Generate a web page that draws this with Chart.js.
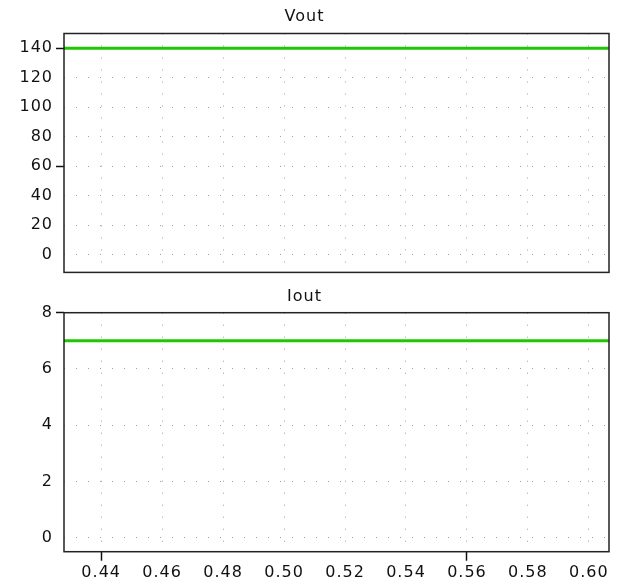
<!DOCTYPE html>
<html>
<head>
<meta charset="utf-8">
<script src="https://cdn.jsdelivr.net/npm/chart.js@4"></script>
<style>
  html, body { margin: 0; padding: 0; background: #fff; }
  #wrap1 { position: absolute; left: 0; top: 0; width: 618px; height: 285px; }
  #wrap2 { position: absolute; left: 0; top: 285px; width: 618px; height: 301px; }
</style>
</head>
<body>
<div id="wrap1"><canvas id="voutChart"></canvas></div>
<div id="wrap2"><canvas id="ioutChart"></canvas></div>
<script>
// time axis (s)
const timeStart = 0.4278;
const timeEnd = 0.6066;
const times = [0.4278, 0.6066];
const xTicks = [0.44, 0.46, 0.48, 0.50, 0.52, 0.54, 0.56, 0.58, 0.60];
const xMarked = [0.44, 0.56];

// Vout
const voutValues = [140, 140];
const voutTicks = [0, 20, 40, 60, 80, 100, 120, 140];
const voutMarked = [140, 60];

// Iout
const ioutValues = [7, 7];
const ioutTicks = [0, 2, 4, 6, 8];
const ioutMarked = [8];

const lineGreen = "#1ec800";
const gridGray = "#a0a0a0";
const fontFamily = "'DejaVu Sans', Verdana, sans-serif";

// draws the black frame round the plot area, widens the text a little
const frame = {
  id: "frame",
  beforeDraw(chart) {
    chart.ctx.letterSpacing = "1px";
  },
  afterDraw(chart) {
    const a = chart.chartArea;
    const c = chart.ctx;
    c.save();
    c.strokeStyle = "#222";
    c.lineWidth = 1.5;
    c.strokeRect(a.left, a.top, a.right - a.left, a.bottom - a.top);
    c.restore();
  },
};

function isMarked(list, v) {
  return list.some((m) => Math.abs(m - v) < 1e-6);
}

function makeChart(id, title, values, yTicks, yMarked, yMin, yMax, opts) {
  let points = times.map((t, i) => ({ x: t, y: values[i] }));
  return new Chart(document.getElementById(id), {
    type: "line",
    data: {
      datasets: [
        {
          label: title,
          data: points,
          borderColor: lineGreen,
          borderWidth: 3,
          pointRadius: 0,
          tension: 0,
        },
      ],
    },
    options: {
      responsive: true,
      maintainAspectRatio: false,
      animation: false,
      layout: { padding: { left: 0, right: 9, top: 0, bottom: 0 } },
      plugins: {
        legend: { display: false },
        tooltip: { enabled: false },
        title: {
          display: true,
          text: title,
          color: "#111",
          font: { family: fontFamily, size: 16, weight: "normal", lineHeight: 1.2 },
          padding: { top: opts.titleTop, bottom: opts.titleGap },
        },
      },
      scales: {
        x: {
          type: "linear",
          min: timeStart,
          max: timeEnd,
          afterBuildTicks: (scale) => {
            scale.ticks = xTicks.map((v) => ({ value: v }));
          },
          afterFit: (scale) => {
            scale.height = opts.xHeight;
          },
          border: { display: false, dash: [1, 11] },
          grid: {
            color: gridGray,
            drawTicks: opts.showX,
            tickLength: 9,
            tickWidth: 1.5,
            tickColor: (ctx) =>
              opts.showX && isMarked(xMarked, xTicks[ctx.index]) ? "#111" : "rgba(0,0,0,0)",
          },
          ticks: {
            display: opts.showX,
            autoSkip: false,
            color: "#111",
            padding: 3,
            maxRotation: 0,
            font: { family: fontFamily, size: 16 },
            callback: (v) => Number(v).toFixed(2),
          },
        },
        y: {
          min: yMin,
          max: yMax,
          afterBuildTicks: (scale) => {
            scale.ticks = yTicks.map((v) => ({ value: v }));
          },
          afterFit: (scale) => {
            scale.width = 64;
          },
          border: { display: false, dash: [1, 11] },
          grid: {
            color: gridGray,
            tickLength: 8,
            tickWidth: 1.5,
            tickColor: (ctx) =>
              isMarked(yMarked, yTicks[ctx.index]) ? "#111" : "rgba(0,0,0,0)",
          },
          ticks: {
            color: "#111",
            padding: 3,
            font: { family: fontFamily, size: 16 },
          },
        },
      },
    },
    plugins: [frame],
  });
}

let voutChart = makeChart("voutChart", "Vout", voutValues, voutTicks, voutMarked, -12, 150, {
  titleTop: 7.4,
  titleGap: 6.9,
  xHeight: 12,
  showX: false,
});
let ioutChart = makeChart("ioutChart", "Iout", ioutValues, ioutTicks, ioutMarked, -0.5, 8, {
  titleTop: 1.9,
  titleGap: 6.6,
  xHeight: 34.3,
  showX: true,
});
</script>
</body>
</html>
